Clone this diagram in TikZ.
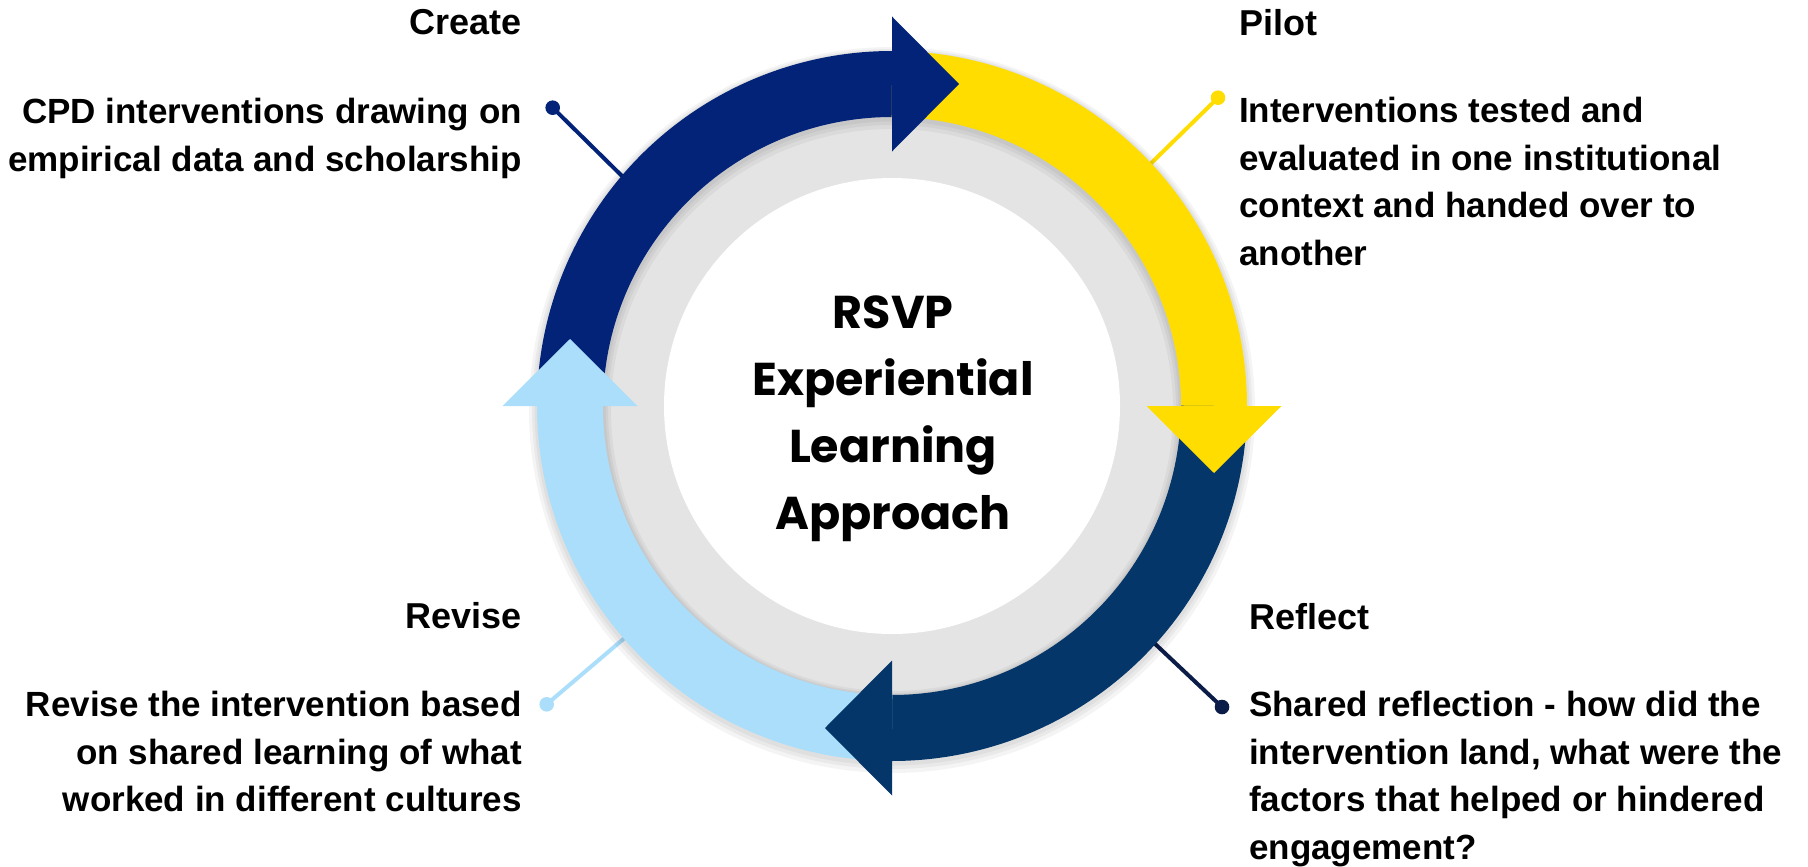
\documentclass[tikz,border=0pt]{standalone}
\usepackage{fontspec}
\setmainfont{Liberation Sans}
\newfontfamily\hubfont{Poppins}
\usepackage{tikz}

\definecolor{createblue}{RGB}{2,35,120}
\definecolor{pilotyellow}{RGB}{255,221,0}
\definecolor{reflectnavy}{RGB}{4,54,106}
\definecolor{reflectline}{RGB}{12,28,72}
\definecolor{reviseblue}{RGB}{170,222,250}
\definecolor{ringgray}{RGB}{228,228,228}

\tikzset{
  band/.style={line width=66pt},
  halo/.style={black, opacity=0.045},
  dot/.style={circle, inner sep=0pt, minimum size=14.6pt},
  leader/.style={line width=4pt},
  title/.style={font=\fontsize{36}{48}\selectfont\bfseries, inner sep=0pt},
  body/.style={font=\fontsize{35}{47.7}\selectfont\bfseries, inner sep=0pt},
  hubtext/.style={font=\fontsize{46}{66.8}\selectfont\hubfont\bfseries, inner sep=0pt, align=center}
}

\begin{document}
\begin{tikzpicture}[x=1pt,y=-1pt]
    \useasboundingbox (0,0) rectangle (1808,867);
    \begin{scope}[shift={(892,406)}]
      \coordinate (createend) at (140:322pt);
      \coordinate (pilotend) at (43:322pt);
      \coordinate (reflectend) at (-42:322pt);
      \coordinate (reviseend) at (-139:322pt);
    \end{scope}
    \node[dot, fill=createblue] (createdot) at (552.7,107.7) {};
    \node[dot, fill=pilotyellow] (pilotdot) at (1218,97.7) {};
    \node[dot, fill=reflectline] (reflectdot) at (1222,707) {};
    \node[dot, fill=reviseblue] (revisedot) at (546.7,704.3) {};
    \draw[leader, createblue] (createdot.center) -- (createend);
    \draw[leader, pilotyellow] (pilotdot.center) -- (pilotend);
    \draw[leader, reflectline] (reflectdot.center) -- (reflectend);
    \draw[leader, reviseblue] (revisedot.center) -- (reviseend);
    \begin{scope}[shift={(892,406)}]
      \fill[ringgray] (0,0) circle[radius=300pt];
      % soft shadow under the ring of arrows
      \draw[halo, line width=82pt] (0pt,-4pt) circle[radius=322pt];
      \draw[halo, line width=76pt] (0pt,-3pt) circle[radius=322pt];
      \draw[halo, line width=71pt] (0pt,-2pt) circle[radius=322pt];
      \fill[white] (0,0) circle[radius=228pt];
      \draw[band, createblue] (180:322pt) arc[start angle=180, end angle=89, radius=322pt];
      \draw[band, pilotyellow] (90:322pt) arc[start angle=90, end angle=-1, radius=322pt];
      \draw[band, reflectnavy] (0:322pt) arc[start angle=0, end angle=-91, radius=322pt];
      \draw[band, reviseblue] (-90:322pt) arc[start angle=-90, end angle=-181, radius=322pt];
      \fill[createblue] (90:254.5pt) -- (90:389.5pt) -- (67pt,322pt) -- cycle;
      \fill[pilotyellow] (0:254.5pt) -- (0:389.5pt) -- (322pt,-67pt) -- cycle;
      \fill[reflectnavy] (-90:254.5pt) -- (-90:389.5pt) -- (-67pt,-322pt) -- cycle;
      \fill[reviseblue] (180:254.5pt) -- (180:389.5pt) -- (-322pt,67pt) -- cycle;
    \end{scope}
    \node[hubtext, anchor=north] (hub) at (893,296) {RSVP\\Experiential\\Learning\\Approach};
    \node[title, anchor=north east] (createtitle) at (522,9) {Create};
    \node[body, anchor=north east, align=right] (createtext) at (522,98)
      {CPD interventions drawing on\\empirical data and scholarship};
    \node[title, anchor=north west] (pilottitle) at (1239,9) {Pilot};
    \node[body, anchor=north west, align=left] (pilottext) at (1239,97)
      {Interventions tested and\\evaluated in one institutional\\context and handed over to\\another};
    \node[title, anchor=north west] (reflecttitle) at (1249,603) {Reflect};
    \node[body, anchor=north west, align=left] (reflecttext) at (1249,691)
      {Shared reflection - how did the\\intervention land, what were the\\factors that helped or hindered\\engagement?};
    \node[title, anchor=north east] (revisetitle) at (522,602) {Revise};
    \node[body, anchor=north east, align=right] (revisetext) at (522,691)
      {Revise the intervention based\\on shared learning of what\\worked in different cultures};
\end{tikzpicture}
\end{document}
